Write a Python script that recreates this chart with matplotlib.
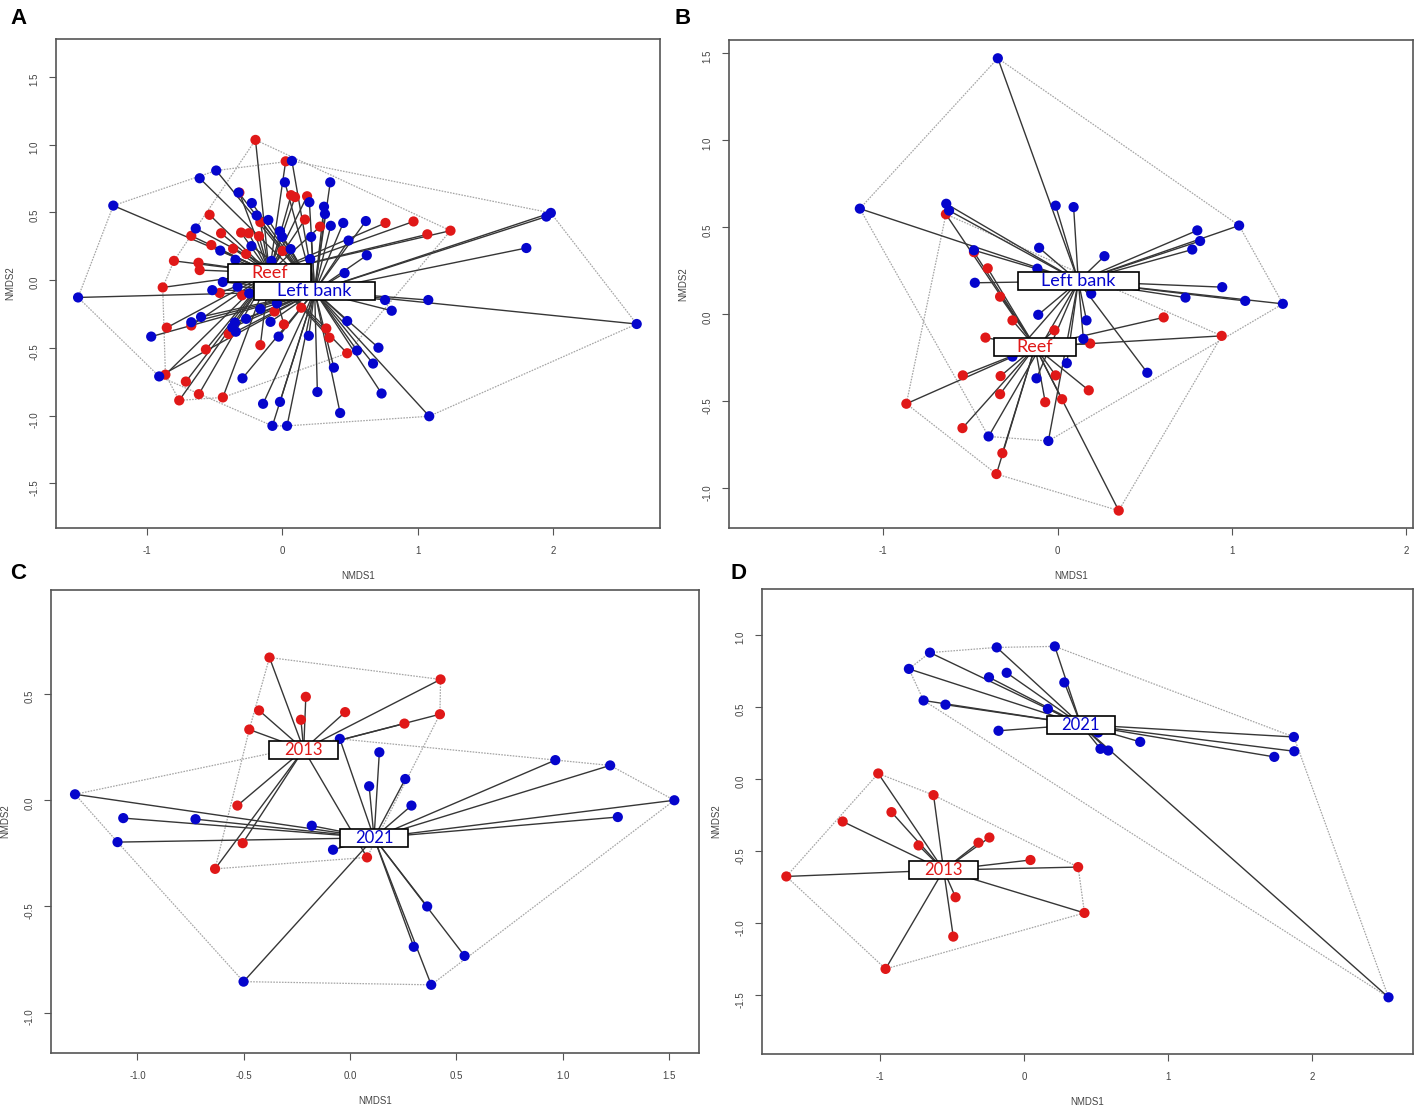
import numpy as np
import matplotlib
matplotlib.use('Agg')
import matplotlib.pyplot as plt
from matplotlib.patches import Rectangle
from matplotlib.transforms import IdentityTransform

plt.rcParams['axes.unicode_minus'] = False
plt.rcParams['font.family'] = ['Liberation Sans', 'DejaVu Sans']

RED = '#e01818'
BLUE = '#0505cc'

# ---- panel A : Reef vs Left bank ----
a_reef_x = [-0.197, 0.026, 0.066, 0.095, 0.184, 0.168, 0.280, -0.316, -0.536, -0.671, -0.451, -0.303,
            -0.247, -0.171, -0.161, -0.523, -0.362, -0.266, 0.003, -0.799, -0.618, -0.609, -0.882, -0.461,
            -0.296, -0.852, -0.671, -0.395, -0.056, 0.013, 0.141, -0.161, 0.326, 0.349, -0.563, 0.480,
            -0.862, -0.711, -0.615, -0.438, -0.760, 0.763, 0.970, 1.072, 1.243]
a_reef_y = [1.035, 0.877, 0.627, 0.613, 0.619, 0.447, 0.395, 0.646, 0.482, 0.327, 0.346, 0.351,
            0.346, 0.324, 0.428, 0.259, 0.232, 0.193, 0.215, 0.142, 0.128, 0.074, -0.054, -0.095,
            -0.112, -0.351, -0.335, -0.398, -0.232, -0.327, -0.204, -0.480, -0.357, -0.425, -0.512, -0.540,
            -0.698, -0.749, -0.842, -0.866, -0.888, 0.422, 0.433, 0.338, 0.365]
a_left_x = [-1.247, -1.507, -0.487, -0.609, 0.072, 0.020, 0.355, -0.224, -0.188, -0.102, -0.016, 0.000,
            0.201, 0.309, 0.316, 0.359, 0.451, 0.618, 0.490, 0.214, 0.625, 0.461, 0.063, -0.227,
            -0.345, -0.457, -0.638, -0.322, -0.079, 0.207, -0.438, -0.516, -0.329, -0.243, -0.039, -0.161,
            -0.086, -0.266, -0.349, -0.368, -0.342, -0.599, -0.671, -0.967, -0.026, 0.197, 0.480, 0.760,
            0.809, 1.079, 0.711, 0.553, 0.671, 0.382, 0.734, 0.260, -0.293, -0.141, -0.016, 0.428,
            1.086, -0.072, 0.036, -0.908, 1.803, 1.951, 1.984, 2.618]
a_left_y = [0.550, -0.128, 0.809, 0.752, 0.880, 0.722, 0.722, 0.569, 0.477, 0.444, 0.360, 0.319,
            0.575, 0.542, 0.488, 0.401, 0.422, 0.436, 0.292, 0.319, 0.183, 0.052, 0.229, 0.251,
            0.150, 0.218, 0.381, 0.646, 0.142, 0.155, -0.014, -0.074, -0.049, -0.098, -0.172, -0.213,
            -0.308, -0.286, -0.313, -0.349, -0.381, -0.272, -0.311, -0.417, -0.417, -0.411, -0.302, -0.147,
            -0.226, -0.147, -0.499, -0.520, -0.616, -0.646, -0.837, -0.826, -0.725, -0.913, -0.899, -0.981,
            -1.005, -1.076, -1.076, -0.711, 0.237, 0.469, 0.496, -0.324]
a_centres = [(-0.095, 0.054), (0.240, -0.082)]
a_labels = ['Reef', 'Left bank']

# ---- panel B : Reef vs Left bank ----
b_reef_x = [-0.641, -0.480, -0.401, -0.330, -0.259, -0.018, 0.609, 0.942, -0.414, 0.187, -0.544,
            -0.327, -0.011, 0.179, -0.330, -0.071, 0.026, -0.868, -0.546, -0.317, -0.351, 0.351]
b_reef_y = [0.576, 0.358, 0.265, 0.102, -0.034, -0.091, -0.017, -0.123, -0.133, -0.167, -0.350,
            -0.354, -0.350, -0.436, -0.458, -0.504, -0.487, -0.513, -0.653, -0.797, -0.917, -1.127]
b_left_x = [-0.343, -1.135, -0.639, -0.623, -0.011, 0.092, 1.042, 0.802, 0.818, 0.773, -0.106, 0.269,
            -0.480, -0.116, -0.475, 0.193, 0.945, 0.734, 1.077, 1.293, -0.111, 0.166, 0.148, -0.259,
            0.053, 0.515, -0.121, -0.396, -0.053]
b_left_y = [1.472, 0.608, 0.636, 0.597, 0.625, 0.617, 0.511, 0.483, 0.422, 0.373, 0.383, 0.335,
            0.369, 0.263, 0.182, 0.119, 0.157, 0.097, 0.078, 0.061, -0.002, -0.034, -0.140, -0.242,
            -0.280, -0.335, -0.367, -0.701, -0.727]
b_centres = [(-0.129, -0.186), (0.119, 0.191)]
b_labels = ['Reef', 'Left bank']

# ---- panel C : 2013 vs 2021 ----
c_2013_x = [-0.379, 0.426, -0.208, -0.428, -0.023, -0.231, -0.474, 0.256, 0.423, -0.530, -0.505, -0.635, 0.080]
c_2013_y = [0.672, 0.569, 0.487, 0.423, 0.415, 0.379, 0.333, 0.361, 0.405, -0.025, -0.202, -0.323, -0.269]
c_2021_x = [-0.048, 0.138, 0.090, 0.260, 0.289, -0.180, -0.080, -1.294, -1.067, -0.727, -1.094, 0.966,
            1.224, 1.526, 1.260, 0.363, 0.300, 0.539, -0.501, 0.382]
c_2021_y = [0.289, 0.226, 0.066, 0.100, -0.025, -0.120, -0.233, 0.028, -0.084, -0.089, -0.197, 0.189,
            0.164, 0.000, -0.079, -0.500, -0.690, -0.733, -0.854, -0.869]
c_centres = [(-0.218, 0.239), (0.113, -0.177)]
c_labels = ['2013', '2021']

# ---- panel D : 2013 vs 2021 ----
d_2013_x = [-1.013, -0.629, -0.921, -1.260, -0.733, -0.317, -0.241, 0.044, 0.375, -1.651, -0.476, 0.419, -0.492, -0.962]
d_2013_y = [0.039, -0.111, -0.229, -0.294, -0.460, -0.441, -0.405, -0.561, -0.610, -0.675, -0.819, -0.928, -1.092, -1.316]
d_2021_x = [0.213, -0.190, -0.654, -0.800, -0.244, -0.121, 0.279, -0.698, -0.546, 0.165, -0.178, 0.514,
            0.530, 0.584, 0.806, 1.873, 1.876, 1.737, 2.530]
d_2021_y = [0.920, 0.913, 0.877, 0.764, 0.706, 0.737, 0.670, 0.545, 0.516, 0.487, 0.335, 0.323,
            0.210, 0.198, 0.258, 0.292, 0.193, 0.154, -1.513]
d_centres = [(-0.559, -0.631), (0.394, 0.378)]
d_labels = ['2013', '2021']

W, H = 1417, 1107
fig = plt.figure(figsize=(W / 100, H / 100), dpi=100)


def px_axes(left, top, right, bottom):
    return fig.add_axes([left / W, 1 - bottom / H, (right - left) / W, (bottom - top) / H])


def convex_hull(xs, ys):
    pts = sorted(set(zip(xs, ys)))

    def cross(o, a, b):
        return (a[0] - o[0]) * (b[1] - o[1]) - (a[1] - o[1]) * (b[0] - o[0])

    lower, upper = [], []
    for p in pts:
        while len(lower) >= 2 and cross(lower[-2], lower[-1], p) <= 0:
            lower.pop()
        lower.append(p)
    for p in reversed(pts):
        while len(upper) >= 2 and cross(upper[-2], upper[-1], p) <= 0:
            upper.pop()
        upper.append(p)
    h = lower[:-1] + upper[:-1]
    h.append(h[0])
    return [p[0] for p in h], [p[1] for p in h]


labels_to_box = []


def panel(ax, groups, centres, labels, xlim, ylim, xticks, yticks, xfmt, padx, lab_size):
    cols = [RED, BLUE]
    for (gx, gy), col in zip(groups, cols):
        hx, hy = convex_hull(gx, gy)
        ax.plot(hx, hy, color='#a5a5a5', lw=0.9, ls=(0, (1.3, 1.0)), zorder=1)
    for (gx, gy), (cx, cy) in zip(groups, centres):
        for xi, yi in zip(gx, gy):
            ax.plot([cx, xi], [cy, yi], color='#363636', lw=1.0, zorder=2)
    for (gx, gy), col in zip(groups, cols):
        ax.scatter(gx, gy, s=54, c=col, edgecolors='none', zorder=3)
    for (cx, cy), lab, col in zip(centres, labels, cols):
        t = ax.text(cx, cy, lab, color=col, ha='center', va='center', fontsize=lab_size,
                    family=['Lato', 'DejaVu Sans'], zorder=7)
        labels_to_box.append((ax, t, padx))

    ax.set_xlim(*xlim)
    ax.set_ylim(*ylim)
    ax.set_xticks(xticks)
    ax.set_xticklabels([xfmt.format(v) for v in xticks])
    ax.set_yticks(yticks)
    ax.set_yticklabels(['{:.1f}'.format(v) for v in yticks])
    ax.tick_params(direction='out', length=5, width=0.8, color='#555555',
                   labelsize=7, labelcolor='#444444', pad=8)
    ax.tick_params(axis='y', labelrotation=90, pad=7)
    for s in ax.spines.values():
        s.set_color('#555555')
        s.set_linewidth(1.2)
    ax.set_xlabel('NMDS1', fontsize=7, color='#444444', labelpad=11)
    ax.set_ylabel('NMDS2', fontsize=7, color='#444444', labelpad=10)


ax_a = px_axes(56, 39, 660, 528)
panel(ax_a, [(a_reef_x, a_reef_y), (a_left_x, a_left_y)], a_centres, a_labels,
      (-1.67, 2.79), (-1.83, 1.78), [-1, 0, 1, 2], [-1.5, -1.0, -0.5, 0.0, 0.5, 1.0, 1.5], '{:d}', 23, 13)

ax_b = px_axes(729, 40, 1413, 528)
panel(ax_b, [(b_reef_x, b_reef_y), (b_left_x, b_left_y)], b_centres, b_labels,
      (-1.886, 2.04), (-1.227, 1.577), [-1, 0, 1, 2], [-1.0, -0.5, 0.0, 0.5, 1.0, 1.5], '{:d}', 23, 13)

ax_c = px_axes(51, 590, 699, 1053)
panel(ax_c, [(c_2013_x, c_2013_y), (c_2021_x, c_2021_y)], c_centres, c_labels,
      (-1.407, 1.642), (-1.19, 0.99), [-1.0, -0.5, 0.0, 0.5, 1.0, 1.5], [-1.0, -0.5, 0.0, 0.5], '{:.1f}', 15, 12)

ax_d = px_axes(762, 589, 1413, 1054)
panel(ax_d, [(d_2013_x, d_2013_y), (d_2021_x, d_2021_y)], d_centres, d_labels,
      (-1.82, 2.70), (-1.906, 1.318), [-1, 0, 1, 2], [-1.5, -1.0, -0.5, 0.0, 0.5, 1.0], '{:d}', 15, 12)

for letter, (lx, ly) in zip('ABCD', [(10, 8), (675, 8), (10, 563), (730, 563)]):
    fig.text(lx / W, 1 - ly / H, letter, fontsize=16, fontweight='bold', va='top', ha='left')

# white boxes behind the group labels, sized from the rendered text
fig.canvas.draw()
renderer = fig.canvas.get_renderer()
for ax, t, padx in labels_to_box:
    bb = t.get_window_extent(renderer)
    rect = Rectangle((bb.x0 - padx, bb.y0 - 1), bb.width + 2 * padx, bb.height + 2,
                     transform=IdentityTransform(), facecolor='white', edgecolor='black',
                     lw=1.2, zorder=6)
    ax.add_patch(rect)

fig.savefig('out.png', dpi=100)
